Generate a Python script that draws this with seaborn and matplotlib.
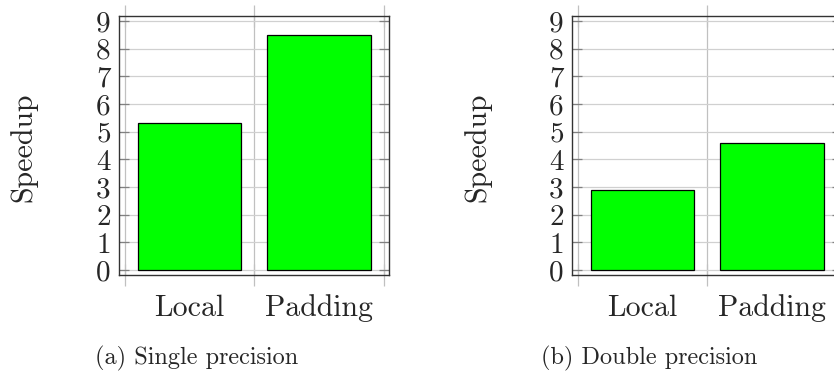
import matplotlib
matplotlib.use("Agg")
import matplotlib.pyplot as plt
import seaborn as sns
import pandas as pd

categories = ["Local", "Padding"]
single_speedup = [5.3, 8.5]
double_speedup = [2.9, 4.6]
captions = ["(a) Single precision", "(b) Double precision"]
y_ticks = list(range(0, 10))

sns.set_style("white")
plt.rcParams["font.family"] = ["cmr10", "DejaVu Serif"]
plt.rcParams["mathtext.fontset"] = "cm"
plt.rcParams["axes.formatter.use_mathtext"] = True

fig = plt.figure(figsize=(8.34, 3.71), dpi=100)
W, H = 834, 371

def make_ax(left_px):
    return fig.add_axes([left_px / W, 1 - 275 / H, 270 / W, 259 / H])

datasets = [single_speedup, double_speedup]
lefts = [119, 572]
ylabel_x = [23, 477]
caption_x = [197, 649]

for i, (vals, lp) in enumerate(zip(datasets, lefts)):
    ax = make_ax(lp)
    df = pd.DataFrame({"cat": categories, "speedup": vals})
    sns.barplot(data=df, x="cat", y="speedup", color="#00ff00", saturation=1,
                edgecolor="black", linewidth=0.9, width=0.8, ax=ax, zorder=3)
    ax.set_xlim(-0.546, 1.54)
    ax.set_ylim(-0.18, 9.18)
    ax.set_yticks(y_ticks)
    ax.set_yticklabels([str(t) for t in y_ticks])
    ax.set_xticks([0, 1])
    ax.set_xticklabels(categories)
    ax.set_xticks([-0.5, 0.5, 1.5], minor=True)
    ax.grid(True, axis="y", which="major", color="#d0d0d0", linewidth=0.9, zorder=0)
    ax.grid(True, axis="x", which="minor", color="#c0c0c0", linewidth=0.9, zorder=0)
    ax.set_axisbelow(True)
    ax.tick_params(axis="x", which="major", length=0, pad=14, labelsize=21.5)
    ax.tick_params(axis="x", which="minor", direction="inout", length=16,
                   color="#c0c0c0", width=0.9, top=True, bottom=True)
    ax.tick_params(axis="y", which="major", direction="in", length=7, width=0.9,
                   color="#808080", left=True, right=True, pad=6, labelsize=21)
    for sp in ax.spines.values():
        sp.set_visible(True)
        sp.set_color("#333333")
        sp.set_linewidth(1.0)
    ax.set_xlabel("")
    ax.set_ylabel("")
    fig.text(ylabel_x[i] / W, 1 - 147 / H, "Speedup", rotation=90,
             ha="center", va="center", fontsize=21.5)
    fig.text(caption_x[i] / W, 1 - 358 / H, captions[i], ha="center",
             va="center", fontsize=17.5)

fig.savefig("out.png", dpi=100)
